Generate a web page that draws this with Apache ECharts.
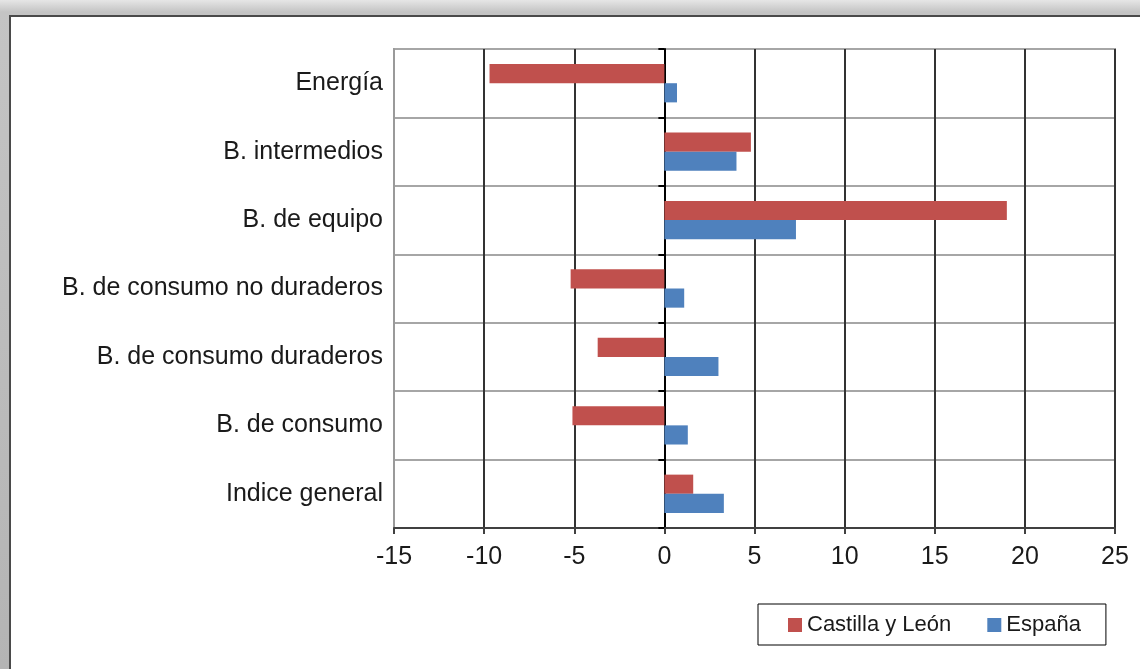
<!DOCTYPE html>
<html>
<head>
<meta charset="utf-8">
<script src="https://cdn.jsdelivr.net/npm/echarts@6/dist/echarts.min.js"></script>
<style>
  html, body { margin: 0; padding: 0; width: 1140px; height: 669px; overflow: hidden; }
  body { background: linear-gradient(to bottom, #e6e6e6 0px, #c4c4c4 12px, #b4b4b4 669px); position: relative; }
  .frame { position: absolute; left: 9px; top: 15px; right: 0; bottom: 0; background: #fff; border-left: 2px solid #4a4a4a; border-top: 2px solid #4a4a4a; }
  #chart { position: absolute; left: 0; top: 0; width: 1140px; height: 669px; }
</style>
</head>
<body>
<div class="frame"></div>
<div id="chart"></div>
<script>
// categories top to bottom
var categorias = ['Energía', 'B. intermedios', 'B. de equipo', 'B. de consumo no duraderos', 'B. de consumo duraderos', 'B. de consumo', 'Indice general'];
var castillaLeon = [-9.7, 4.8, 19.0, -5.2, -3.7, -5.1, 1.6];
var espana = [0.7, 4.0, 7.3, 1.1, 3.0, 1.3, 3.3];
var seriesNames = ['Castilla y León', 'España'];
var xMin = -15, xMax = 25, xStep = 5;

var chart = echarts.init(document.getElementById('chart'));
var fontFam = 'Liberation Sans, Arial, sans-serif';
chart.setOption({
    animation: false,
    color: ['#C0504D', '#4F81BD'],
    grid: {
        left: 394, top: 49, right: 25, bottom: 141,
        show: true, borderColor: '#9a9a9a', borderWidth: 2
    },
    legend: {
        data: seriesNames,
        left: 758, top: 604,
        orient: 'horizontal',
        icon: 'rect',
        itemWidth: 14, itemHeight: 14,
        itemGap: 36,
        padding: [10, 25, 9, 30],
        borderColor: '#000', borderWidth: 1,
        textStyle: { fontFamily: fontFam, fontSize: 22, color: '#1a1a1a' }
    },
    xAxis: {
        type: 'value',
        min: xMin, max: xMax, interval: xStep,
        axisLine: { show: true, lineStyle: { color: '#404040', width: 2 } },
        axisTick: { show: true, length: 6, lineStyle: { color: '#404040', width: 2 } },
        axisLabel: { fontFamily: fontFam, fontSize: 25, color: '#1a1a1a', margin: 17 },
        splitLine: { show: true, lineStyle: { color: '#333', width: 2 } }
    },
    yAxis: [
        {
            type: 'category',
            data: categorias,
            inverse: true,
            axisLine: { onZero: false, show: true, lineStyle: { color: '#9a9a9a', width: 2 } },
            axisTick: { show: false },
            axisLabel: { fontFamily: fontFam, fontSize: 25, color: '#1a1a1a', margin: 11 },
            splitLine: { show: true, lineStyle: { color: '#a6a6a6', width: 2 } }
        },
        {
            type: 'category',
            data: categorias,
            inverse: true,
            position: 'left',
            axisLine: { onZero: true, show: true, lineStyle: { color: '#000', width: 2 } },
            axisTick: { show: true, length: 6, lineStyle: { color: '#000', width: 2 } },
            axisLabel: { show: false },
            splitLine: { show: false }
        }
    ],
    series: [
        {
            name: seriesNames[0],
            type: 'bar',
            yAxisIndex: 0,
            data: castillaLeon,
            barGap: '0%',
            barCategoryGap: '44%',
            z: 3
        },
        {
            name: seriesNames[1],
            type: 'bar',
            yAxisIndex: 0,
            data: espana,
            barGap: '0%',
            barCategoryGap: '44%',
            z: 3
        }
    ]
});
</script>
</body>
</html>
